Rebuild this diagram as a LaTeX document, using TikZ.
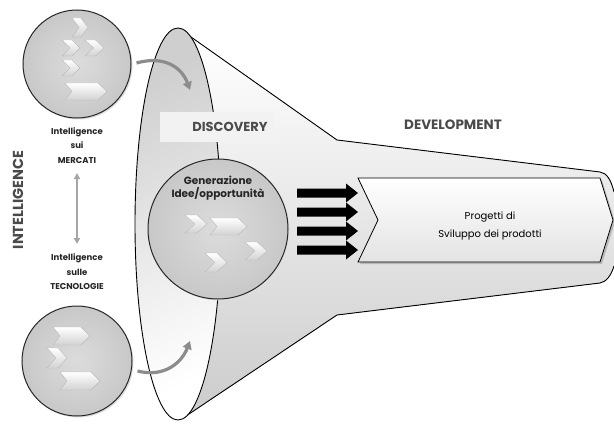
\documentclass[tikz,border=0pt]{standalone}
\usepackage{fontspec}
\setmainfont{Poppins}
\usetikzlibrary{arrows.meta}
\definecolor{ballin}{HTML}{DCDCDC}
\definecolor{ballout}{HTML}{C8C8C8}
\definecolor{labgray}{HTML}{4A4A4A}
\definecolor{curvegray}{HTML}{8C8C8C}
\newcommand\chevr[4]{\path[chev] (#1,#2) -- ++(0.55*#3,0) -- ++(0.45*#3,0.5*#4) -- ++(-0.45*#3,0.5*#4) -- ++(-0.55*#3,0) -- ++(0.45*#3,-0.5*#4) -- cycle;}
\newcommand\larr[4]{\path[chev] (#1,#2) -- ++(#3-9,0) -- ++(9,0.5*#4) -- ++(-9,0.5*#4) -- ++(-#3+9,0) -- ++(7,-0.5*#4) -- cycle;}
\newcommand\blkarr[1]{\fill[black] (297,#1-4.5) -- (346,#1-4.5) -- (346,#1-9.5) -- (358,#1) -- (346,#1+9.5) -- (346,#1+4.5) -- (297,#1+4.5) -- cycle;}
\begin{document}
\begin{tikzpicture}[x=1pt,y=-1pt,
  chev/.style={draw=gray!55,line width=0.4pt,top color=white,bottom color=gray!35},
  ball/.style={circle,draw=black!85,line width=1pt,inner color=ballin,outer color=ballout,inner sep=0pt},
  small/.style={font=\fontsize{8.5}{14.5}\selectfont\bfseries,text=black!85,align=center,inner sep=0pt},
  curvearr/.style={draw=curvegray,line width=3.2pt,-{Triangle[length=8pt,width=9pt]}},
  dblarr/.style={draw=gray!70,line width=2pt,{Triangle[length=6pt,width=6pt]}-{Triangle[length=6pt,width=6pt]}},
  phase/.style={font=\fontsize{13}{13}\selectfont\bfseries,text=labgray,inner sep=0pt}]
\useasboundingbox (0,0) rectangle (614,428);
\fill[white] (0,0) rectangle (614,428);
% funnel body
\fill[top color=white,bottom color=gray!40] (191,37) -- (337,140) -- (600,172) .. controls (607,173) and (611,180) .. (614,192) -- (614,266) .. controls (611,276) and (606,282) .. (600,283) -- (337,315) -- (186,416) -- cycle;
\draw[line width=0.9pt] (191,37) -- (337,140) -- (600,172) .. controls (607,173) and (611,180) .. (614,192);
\draw[line width=0.9pt] (614,266) .. controls (611,276) and (606,282) .. (600,283) -- (337,315) -- (186,416);
% funnel mouth
\draw[line width=0.9pt,top color=gray!38,bottom color=white,shading angle=25] (178,224) ellipse [x radius=43,y radius=196];
% discovery box
\fill[gray!10] (160,112) rectangle (274,142);
\node[phase] (disc) at (230,127) {DISCOVERY};
\node[phase,font=\fontsize{13.5}{13.5}\selectfont\bfseries] (devel) at (453,125) {DEVELOPMENT};
% intelligence
\node[rotate=90,font=\fontsize{14.5}{14.5}\selectfont\bfseries,text=labgray,inner sep=0pt] (intel) at (18,200) {INTELLIGENCE};
% small circles
\fill[gray!25] (78.5,65.5) circle (54);
\node[ball,minimum size=108pt] (mkt) at (77,64) {};
\fill[gray!25] (78.5,362.5) circle (55);
\node[ball,minimum size=110pt] (tec) at (77,361) {};
\chevr{72}{18}{16}{19}
\chevr{62}{40}{18}{16}
\chevr{85}{40}{19}{16}
\chevr{62}{60}{18}{16}
\larr{65}{83}{42}{17}
\larr{53}{327}{37}{18}
\chevr{47}{348}{20}{20}
\larr{60}{372}{40}{18}
\node[small] (lmkt) at (77,145.5) {Intelligence\\sui\\MERCATI};
\node[small] (ltec) at (77,272) {Intelligence\\sulle\\TECNOLOGIE};
\draw[dblarr] (77,173) -- (77,244);
% curved arrows
\coordinate (c1) at (190,90);
\coordinate (c2) at (190,341);
\draw[curvearr] (mkt.east) ++(5,-1) .. controls (165,55) and (182,68) .. (c1);
\draw[curvearr] (tec.east) ++(5,10) .. controls (165,378) and (182,362) .. (c2);
% central circle
\fill[gray!25] (219.5,230.5) circle (70);
\node[ball,minimum size=140pt] (gen) at (218,229) {};
\node[font=\fontsize{10.5}{13}\selectfont\bfseries,text=black!85,align=center,inner sep=0pt] (lgen) at (218,188.5) {Generazione\\Idee/opportunità};
\chevr{185}{215}{22}{18}
\larr{210}{218}{37}{17}
\chevr{245}{242}{22}{18}
\chevr{205}{253}{22}{19}
% black arrows
\blkarr{193}
\blkarr{212}
\blkarr{231}
\blkarr{250}
% development box
\fill[gray!55] (360,180) -- (602,180) -- (615,222) -- (602,264) -- (360,264) -- (380,222) -- cycle;
\draw[line width=0.8pt,top color=white,bottom color=gray!22] (358,178) -- (600,178) -- (613,220) -- (600,262) -- (358,262) -- (378,220) -- cycle;
\node[font=\fontsize{10}{18}\selectfont,align=center,inner sep=0pt] (proj) at (490,226) {Progetti di\\Sviluppo dei prodotti};
\end{tikzpicture}
\end{document}
